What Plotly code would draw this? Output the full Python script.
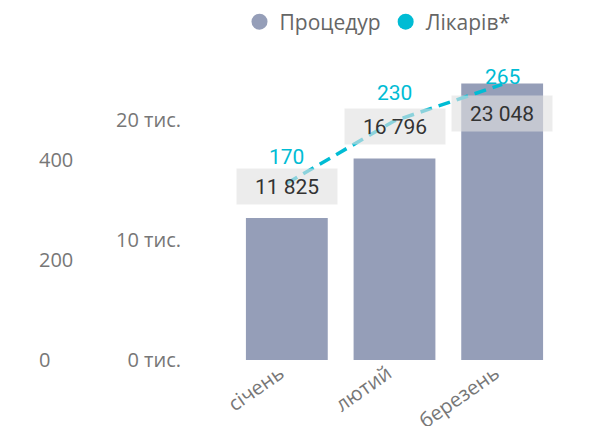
import plotly.graph_objects as go

# --- data -------------------------------------------------------------
months = ["січень", "лютий", "березень"]
procedures = [11825, 16796, 23048]
doctors = [170, 230, 265]

# where each bar's value box sits relative to the bar top
bar_label_pos = ["above", "above", "inside"]
# vertical offset (px) of each doctors label above its point
doctor_label_shift = [26, 28, 7]

bar_ticks = [0, 10000, 20000]
bar_tick_text = ["0 тис.", "10 тис.", "20 тис."]
count_ticks = [0, 200, 400]

# --- style ------------------------------------------------------------
BAR_COLOR = "#959EB8"
LINE_COLOR = "#00BCD4"
TICK_COLOR = "#777777"
W, H = 604, 426
AXIS_FONT = dict(family="Open Sans", size=20, color=TICK_COLOR)
LABEL_FONT = "Roboto"


def fmt(v):
    return f"{v:,}".replace(",", " ")


fig = go.Figure()

fig.add_trace(go.Bar(
    x=months, y=procedures, name="Процедур",
    marker=dict(color=BAR_COLOR, line=dict(width=0)),
    showlegend=False, hoverinfo="skip",
))

fig.add_trace(go.Scatter(
    x=months, y=doctors, name="Лікарів*", yaxis="y2",
    mode="lines", line=dict(color=LINE_COLOR, width=3.5, dash="12px,7px"),
    showlegend=False, hoverinfo="skip",
))

# legend entries drawn as round swatches
for name, color in [("Процедур", BAR_COLOR), ("Лікарів*", LINE_COLOR)]:
    fig.add_trace(go.Scatter(
        x=[None], y=[None], mode="markers", name=name,
        marker=dict(symbol="circle", size=19, color=color),
        showlegend=True,
    ))

# count axis on the far left (no data of its own)
fig.add_trace(go.Scatter(x=[None], y=[None], yaxis="y3", showlegend=False))

annotations = []
for m, v, pos in zip(months, procedures, bar_label_pos):
    above = pos == "above"
    annotations.append(dict(
        x=m, y=v, xref="x", yref="y",
        text=fmt(v), showarrow=False,
        font=dict(family=LABEL_FONT, size=21, color="#333333"),
        bgcolor="rgba(225,225,225,0.62)",
        width=100, height=35, borderpad=0,
        yanchor="bottom" if above else "top",
        yshift=13 if above else -12,
    ))

for m, v, s in zip(months, doctors, doctor_label_shift):
    annotations.append(dict(
        x=m, y=v, xref="x", yref="y2",
        text=str(v), showarrow=False,
        font=dict(family=LABEL_FONT, size=21, color=LINE_COLOR),
        yanchor="middle", yshift=s,
    ))

fig.update_layout(
    width=W, height=H,
    margin=dict(l=0, r=0, t=60, b=66, autoexpand=False),
    paper_bgcolor="white", plot_bgcolor="white",
    bargap=0.24,
    font=dict(family="Open Sans", color=TICK_COLOR),
    xaxis=dict(
        domain=[233 / W, 556 / W], automargin=False,
        tickangle=-35, tickfont=AXIS_FONT,
        ticklabelshift=-7, ticklabelstandoff=-3,
        showgrid=False, showline=False, zeroline=False, ticks="",
    ),
    yaxis=dict(
        range=[0, 25000], anchor="free", position=181 / W, side="left",
        automargin=False,
        tickvals=bar_ticks, ticktext=bar_tick_text, tickfont=AXIS_FONT,
        showgrid=False, zeroline=False, showline=False, ticks="",
    ),
    yaxis2=dict(
        range=[0, 288.5], overlaying="y", anchor="x", visible=False,
    ),
    yaxis3=dict(
        range=[0, 600], overlaying="y", anchor="free", position=38 / W,
        side="right", automargin=False, tickvals=count_ticks,
        tickfont=AXIS_FONT,
        showgrid=False, zeroline=False, showline=False, ticks="",
    ),
    legend=dict(
        orientation="h", x=0.625, xanchor="center", y=1 - 22 / H,
        yanchor="middle", yref="container",
        font=dict(family="Open Sans", size=21, color="#666666"),
        itemsizing="trace", tracegroupgap=0,
    ),
    annotations=annotations,
)

fig.write_html("out.html")
